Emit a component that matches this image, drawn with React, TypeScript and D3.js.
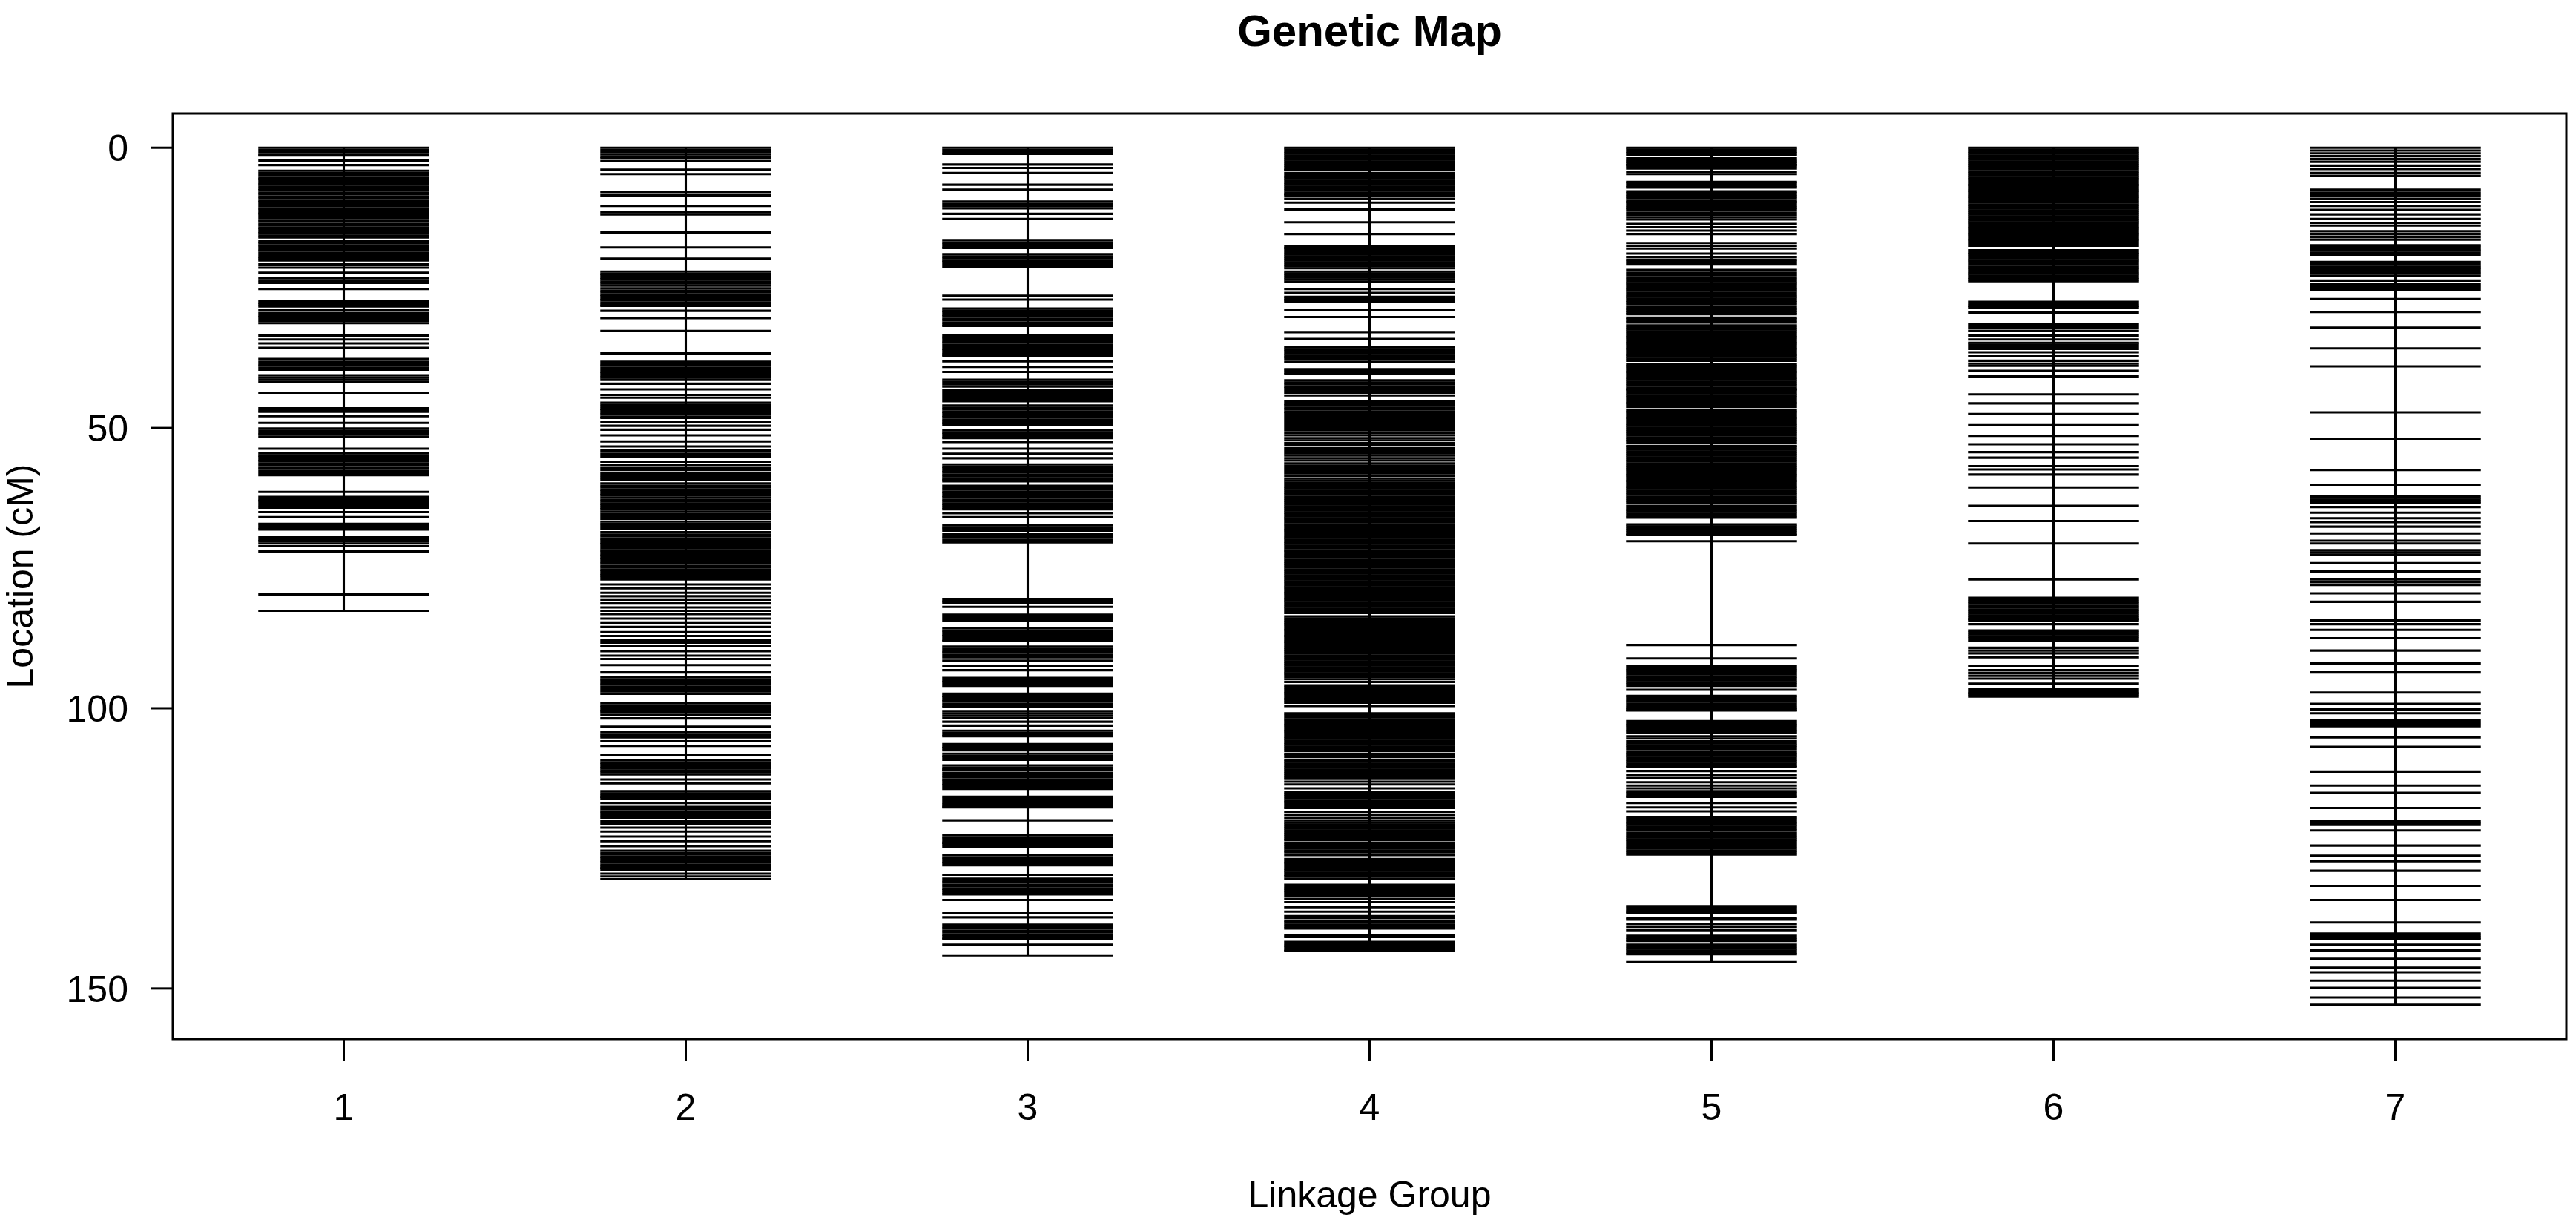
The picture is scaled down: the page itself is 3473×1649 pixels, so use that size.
import React from "react";
import * as d3 from "d3";

// Marker positions (cM) per linkage group
const chr1 = [0,0.4,0.8,1.2,1.4,2.3,3.1,4.1,4.5,4.9,5.3,5.6,5.9,6.3,6.6,7.0,7.3,7.6,8.0,8.3,8.7,9.0,9.4,9.7,10.1,10.4,10.8,11.1,11.5,11.8,12.2,12.5,12.9,13.2,13.6,13.9,14.3,14.6,15.0,15.3,15.7,16.0,16.7,17.0,17.4,17.7,18.1,18.4,18.8,19.1,19.5,19.8,20.1,20.8,21.4,22.3,23.3,23.7,24.1,25.2,27.3,27.7,28.0,28.3,28.9,29.5,29.9,30.2,30.6,30.9,31.3,33.5,34.2,34.9,35.7,37.7,38.2,38.6,38.9,39.3,39.6,40.6,41.0,41.4,41.8,43.7,46.5,46.8,47.1,47.9,49.1,50.1,50.5,50.9,51.2,51.6,53.7,54.5,54.9,55.2,55.6,55.9,56.3,56.6,57.0,57.3,57.7,58.0,58.4,61.4,62.3,62.7,63.0,63.4,63.8,64.2,65.0,65.9,67.1,67.5,67.8,68.1,69.5,69.9,70.2,70.6,71.1,72.0,79.7,82.6];

const chr2 = [0,0.4,0.8,1.2,1.6,1.9,2.4,3.9,4.7,7.9,8.5,10.4,11.5,11.9,15.1,17.8,19.8,22.1,22.5,22.8,23.2,23.5,23.9,24.2,24.6,25.1,25.5,25.8,26.2,26.5,26.9,27.2,27.6,27.9,28.2,29.1,30.4,32.7,36.7,38.2,38.6,38.9,39.3,39.6,40.0,40.3,40.7,41.0,41.4,42.1,43.1,44.1,44.6,45.5,45.9,46.2,46.6,46.9,47.3,47.6,48.0,48.2,49.0,49.6,50.3,51.3,52.4,53.3,54.0,54.6,55.1,56.0,56.6,57.1,57.5,58.0,58.4,58.8,59.2,59.9,60.3,60.6,61.0,61.3,61.7,62.0,62.4,62.8,63.1,63.5,63.8,64.2,64.5,64.9,65.3,65.8,66.2,66.7,67.1,67.5,67.9,68.6,69.0,69.3,69.7,70.0,70.4,70.7,71.1,71.4,71.8,72.1,72.5,72.8,73.2,73.5,73.9,74.2,74.6,74.9,75.3,75.6,76.0,76.3,76.6,77.0,77.9,78.6,79.4,80.0,80.6,81.3,82.0,82.6,83.2,84.0,84.7,85.5,86.4,87.1,87.9,88.3,88.9,89.8,90.6,91.2,92.3,93.6,94.4,94.8,95.1,95.5,95.8,96.2,96.6,97.0,97.4,99.1,99.5,99.8,100.2,100.5,100.8,101.2,101.8,103.3,104.2,104.6,104.9,105.2,105.9,106.7,108.3,109.3,109.7,110.0,110.4,110.7,111.1,111.4,111.8,112.7,113.4,114.8,115.2,115.5,115.8,116.1,116.9,117.6,118.0,118.4,118.7,119.1,119.5,120.2,120.7,121.3,122.0,122.9,123.7,124.6,125.4,125.8,126.1,126.5,126.8,127.2,127.5,127.9,128.2,128.5,128.8,129.5,130.0,130.5];

const chr3 = [0,0.4,0.8,1.1,3.0,3.6,4.5,6.6,7.5,9.6,10.0,10.4,10.8,11.8,12.7,16.5,16.9,17.2,17.6,17.9,19.0,19.4,19.7,20.1,20.4,20.8,21.2,26.4,27.1,28.7,29.1,29.4,29.8,30.1,30.5,30.8,31.2,31.5,31.8,33.4,33.8,34.1,34.5,34.8,35.2,35.5,35.9,36.2,36.6,36.9,37.2,38.1,39.1,40.0,41.4,41.8,42.2,42.6,43.3,43.7,44.1,44.5,44.9,45.2,46.0,46.4,46.7,47.1,47.4,47.8,48.1,48.5,48.8,49.1,49.4,50.4,50.8,51.1,51.5,51.8,52.5,53.7,54.6,55.4,56.5,56.9,57.2,57.6,57.9,58.3,58.6,59.0,59.3,59.5,60.3,60.7,61.0,61.4,61.7,62.1,62.4,62.8,63.1,63.5,63.8,64.2,64.5,65.2,65.9,67.3,67.7,68.0,68.3,68.9,69.3,69.6,70.0,70.4,80.5,80.9,81.2,81.9,83.3,83.8,84.3,85.7,86.1,86.4,86.8,87.1,87.5,87.8,88.0,89.0,89.4,89.8,90.1,90.5,90.9,91.5,92.5,93.2,94.6,95.0,95.3,95.7,96.0,97.4,97.8,98.1,98.5,98.8,99.2,99.5,99.8,100.5,100.9,101.3,101.7,102.4,103.1,104.0,104.4,104.7,105.0,106.4,106.8,107.1,107.5,108.1,108.5,108.8,109.2,110.2,110.6,110.9,111.1,111.6,112.0,112.3,112.7,113.0,113.4,113.7,114.1,114.4,115.8,116.2,116.5,116.9,117.2,117.5,117.7,120.0,122.6,123.0,123.3,123.7,124.0,124.3,124.7,126.2,126.6,126.9,127.3,127.6,128.0,129.7,130.4,130.8,131.1,131.5,131.8,132.2,132.5,132.9,133.2,134.2,136.5,137.3,138.6,139.0,139.3,139.7,140.0,140.4,140.7,141.0,141.2,142.2,144.1];

const chr4 = [0,0.35,0.7,1.05,1.4,1.75,2.1,2.45,2.8,3.15,3.5,3.85,4.0,4.5,4.85,5.2,5.55,5.9,6.25,6.6,6.95,7.3,7.65,8.0,8.3,8.5,9.1,9.8,11.0,13.3,15.4,17.6,17.9,18.2,18.7,19.05,19.4,19.75,20.1,20.45,20.8,21.15,21.5,22.1,22.45,22.8,23.15,23.5,23.9,25.2,25.9,26.6,26.9,27.2,27.5,29.0,30.2,32.9,34.1,35.6,35.95,36.3,36.65,37.0,37.35,37.7,38.2,39.5,39.8,40.1,40.4,41.5,41.9,42.2,42.6,42.9,43.3,43.7,44.2,45.3,45.7,46.0,46.4,46.7,47.1,47.4,47.8,48.2,48.6,49.0,49.4,49.9,50.4,50.9,51.3,51.8,52.2,52.7,53.1,53.6,54.0,54.5,54.9,55.4,55.8,56.3,56.7,57.2,57.6,58.1,58.5,59.0,59.4,59.8,60.1,60.5,60.85,61.2,61.55,61.9,62.25,62.6,62.95,63.3,63.65,64.0,64.35,64.7,65.05,65.4,65.75,66.1,66.45,66.8,67.15,67.5,67.85,68.2,68.55,68.9,69.25,69.6,69.95,70.3,70.65,71.0,71.4,71.8,72.1,72.45,72.8,73.15,73.5,73.85,74.2,74.55,74.9,75.25,75.6,75.95,76.3,76.65,77.0,77.35,77.7,78.05,78.4,78.75,79.1,79.45,79.8,80.15,80.5,80.85,81.2,81.55,81.9,82.25,82.6,83.0,83.6,83.95,84.3,84.65,85.0,85.35,85.7,86.05,86.4,86.75,87.1,87.45,87.8,88.15,88.5,88.85,89.2,89.55,89.9,90.25,90.6,90.95,91.3,91.65,92.0,92.35,92.7,93.05,93.4,93.75,94.1,94.4,94.8,95.3,95.9,96.25,96.6,96.95,97.3,97.65,98.0,98.35,98.7,99.0,99.6,100.9,101.25,101.6,101.95,102.3,102.65,103.0,103.35,103.7,104.05,104.4,104.75,105.1,105.45,105.8,106.15,106.5,106.85,107.2,107.6,108.1,108.3,108.7,109.2,109.55,109.9,110.25,110.6,110.95,111.3,111.65,112.0,112.3,112.6,113.1,113.6,114.3,115.0,115.35,115.7,116.05,116.4,116.75,117.1,117.45,117.8,118.5,119.0,119.5,120.0,120.4,120.75,121.1,121.45,121.8,122.15,122.5,122.85,123.2,123.5,124.0,124.35,124.7,125.05,125.4,125.7,126.2,126.9,127.25,127.6,127.95,128.3,128.65,129.0,129.35,129.7,130.0,130.4,131.5,131.85,132.2,132.55,132.9,133.4,134.0,134.6,135.5,136.3,137.1,137.4,137.9,138.25,138.6,138.95,139.3,140.5,140.8,141.7,142.05,142.4,142.75,143.1,143.3];

const chr5 = [0,0.35,0.7,1.0,1.3,1.9,2.2,2.5,2.8,3.1,3.4,3.7,4.3,4.7,6.1,6.4,6.8,7.1,7.8,8.1,8.4,8.7,9.0,9.4,9.7,10.0,10.4,10.7,11.0,11.6,12.0,12.4,12.8,13.6,14.2,14.8,15.4,17.0,17.5,18.0,18.9,19.5,20.0,20.35,20.7,21.8,22.3,22.7,23.1,23.45,23.8,24.15,24.5,24.85,25.2,25.55,25.9,26.25,26.6,26.95,27.3,27.6,27.9,28.4,28.75,29.1,29.4,29.7,30.3,30.6,30.9,31.2,31.7,32.05,32.4,32.75,33.1,33.45,33.8,34.15,34.5,34.85,35.2,35.55,35.9,36.25,36.6,36.95,37.3,37.65,38.0,38.6,38.95,39.3,39.65,40.0,40.35,40.7,41.05,41.4,41.75,42.1,42.45,42.8,43.1,43.3,43.8,44.15,44.5,44.85,45.2,45.55,45.9,46.25,46.8,47.15,47.5,47.85,48.2,48.55,48.9,49.25,49.6,49.95,50.3,50.65,51.0,51.35,51.7,52.0,52.3,52.7,53.2,53.5,53.85,54.2,54.55,54.9,55.25,55.6,55.95,56.3,56.65,57.0,57.35,57.7,58.05,58.4,58.75,59.1,59.45,59.8,60.15,60.5,60.85,61.2,61.55,61.9,62.25,62.6,62.95,63.3,63.9,64.25,64.6,64.95,65.3,65.7,66.0,67.2,67.55,67.9,68.25,68.6,68.9,69.1,70.2,88.7,91.1,92.5,92.85,93.2,93.55,93.9,94.3,94.65,95.0,95.35,95.7,96.0,96.7,97.8,98.15,98.5,98.85,99.2,99.55,99.9,100.2,100.4,102.3,102.65,103.0,103.35,103.7,104.05,104.4,105.0,105.4,105.9,106.25,106.6,106.95,107.3,107.8,108.15,108.5,108.85,109.2,109.55,109.9,110.25,110.5,111.2,111.9,112.5,113.2,113.8,114.3,114.8,115.15,115.5,115.8,116.9,117.7,118.4,119.4,119.75,120.1,120.45,120.8,121.15,121.5,121.85,122.3,122.7,123.05,123.4,123.75,124.2,124.7,125.05,125.4,125.75,126.1,135.3,135.65,136.0,136.3,136.5,137.4,137.7,138.5,139.0,139.6,140.6,140.95,141.3,141.5,142.2,142.55,142.9,143.25,143.6,143.9,145.3];

const chr6 = [0,0.35,0.7,1.05,1.4,1.75,2.1,2.45,2.8,3.15,3.5,3.85,4.2,4.55,4.9,5.25,5.6,5.95,6.3,6.65,7.0,7.35,7.7,8.05,8.4,8.75,9.1,9.45,9.8,10.15,10.5,10.85,11.2,11.55,11.9,12.25,12.6,12.95,13.3,13.65,14.0,14.35,14.7,15.05,15.4,15.75,16.1,16.45,16.8,17.15,17.5,18.3,18.7,19.0,19.35,19.7,20.05,20.4,20.75,21.1,21.45,21.8,22.15,22.5,22.85,23.2,23.5,23.8,27.5,27.85,28.2,28.5,29.4,31.4,31.8,32.2,32.7,33.5,34.2,34.8,35.15,35.5,35.9,36.5,37.2,38.0,38.5,38.9,39.8,40.8,44.0,45.6,47.5,49.5,51.4,52.9,54.3,55.3,56.8,57.4,58.3,60.6,63.9,66.6,70.6,77.0,80.3,80.65,81.0,81.35,81.7,82.05,82.4,82.75,83.1,83.45,83.8,84.1,84.3,85.0,86.1,86.45,86.8,87.15,87.5,87.9,89.2,89.7,90.2,90.9,92.5,93.2,93.7,94.2,94.7,95.6,96.6,96.95,97.3,97.6,97.9];

const chr7 = [0,0.5,1.0,1.5,2.0,2.5,3.2,3.8,4.5,5.0,7.5,8.0,8.5,9.1,9.7,10.4,11.1,11.9,12.7,13.4,13.9,14.9,15.4,15.9,16.4,17.4,17.75,18.1,18.4,18.75,19.1,20.4,20.75,21.1,21.45,21.8,22.15,22.5,22.9,23.7,24.4,24.9,25.4,27.0,29.3,32.1,35.8,39.0,47.2,51.9,57.5,60.1,62.1,62.45,62.8,63.1,63.4,64.1,65.1,66.1,66.8,67.6,68.8,70.1,70.6,71.8,72.2,72.6,74.1,75.6,77.0,77.5,78.0,79.5,81.0,84.3,85.0,86.0,87.5,89.7,92.0,93.6,97.2,99.2,100.2,100.9,102.2,102.7,103.2,105.2,106.9,111.3,113.8,115.1,117.8,120.1,120.45,120.8,121.8,124.5,126.3,127.3,129.0,131.7,134.2,138.2,140.2,140.55,140.9,141.2,142.2,143.2,144.7,146.3,147.1,148.6,149.9,151.6,152.9];

const groups = ["1", "2", "3", "4", "5", "6", "7"];
const markers = [chr1, chr2, chr3, chr4, chr5, chr6, chr7];
const yTicks = [0, 50, 100, 150];

const W = 3473;
const H = 1649;
const box = { left: 233, right: 3460, top: 153, bottom: 1401 };
const FONT = "'Liberation Sans', Arial, Helvetica, sans-serif";

export default function App() {
  const maxPos = d3.max(markers.map((m) => d3.max(m) as number)) as number;
  const x = d3.scaleLinear().domain([0.5, groups.length + 0.5]).range([box.left, box.right]);
  const y = d3
    .scaleLinear()
    .domain([-0.04 * maxPos, 1.04 * maxPos])
    .range([box.top, box.bottom]);
  const lw = 3.1;

  return (
    <svg
      width={W}
      height={H}
      style={{ position: "absolute", left: 0, top: 0, background: "#fff" }}
      fontFamily={FONT}
    >
      <rect x={0} y={0} width={W} height={H} fill="#fff" />
      <text x={(box.left + box.right) / 2} y={62} textAnchor="middle" fontSize={60} fontWeight="bold">
        Genetic Map
      </text>

      {markers.map((m, i) => {
        const cx = x(i + 1);
        const lo = d3.min(m) as number;
        const hi = d3.max(m) as number;
        return (
          <g key={groups[i]} stroke="#000" strokeWidth={lw}>
            <line x1={cx} x2={cx} y1={y(lo)} y2={y(hi)} />
            {m.map((p, j) => (
              <line key={j} x1={x(i + 1 - 0.25)} x2={x(i + 1 + 0.25)} y1={y(p)} y2={y(p)} />
            ))}
          </g>
        );
      })}

      <rect
        x={box.left}
        y={box.top}
        width={box.right - box.left}
        height={box.bottom - box.top}
        fill="none"
        stroke="#000"
        strokeWidth={3}
      />

      {yTicks.map((t) => (
        <g key={t}>
          <line x1={box.left} x2={box.left - 30} y1={y(t)} y2={y(t)} stroke="#000" strokeWidth={3} />
          <text x={box.left - 60} y={y(t) + 18} textAnchor="end" fontSize={50}>
            {t}
          </text>
        </g>
      ))}

      {groups.map((g, i) => (
        <g key={g}>
          <line x1={x(i + 1)} x2={x(i + 1)} y1={box.bottom} y2={box.bottom + 30} stroke="#000" strokeWidth={3} />
          <text x={x(i + 1)} y={1510} textAnchor="middle" fontSize={50}>
            {g}
          </text>
        </g>
      ))}

      <text x={(box.left + box.right) / 2} y={1628} textAnchor="middle" fontSize={50}>
        Linkage Group
      </text>
      <text
        transform={`translate(44, ${(box.top + box.bottom) / 2}) rotate(-90)`}
        textAnchor="middle"
        fontSize={50}
      >
        Location (cM)
      </text>
    </svg>
  );
}
